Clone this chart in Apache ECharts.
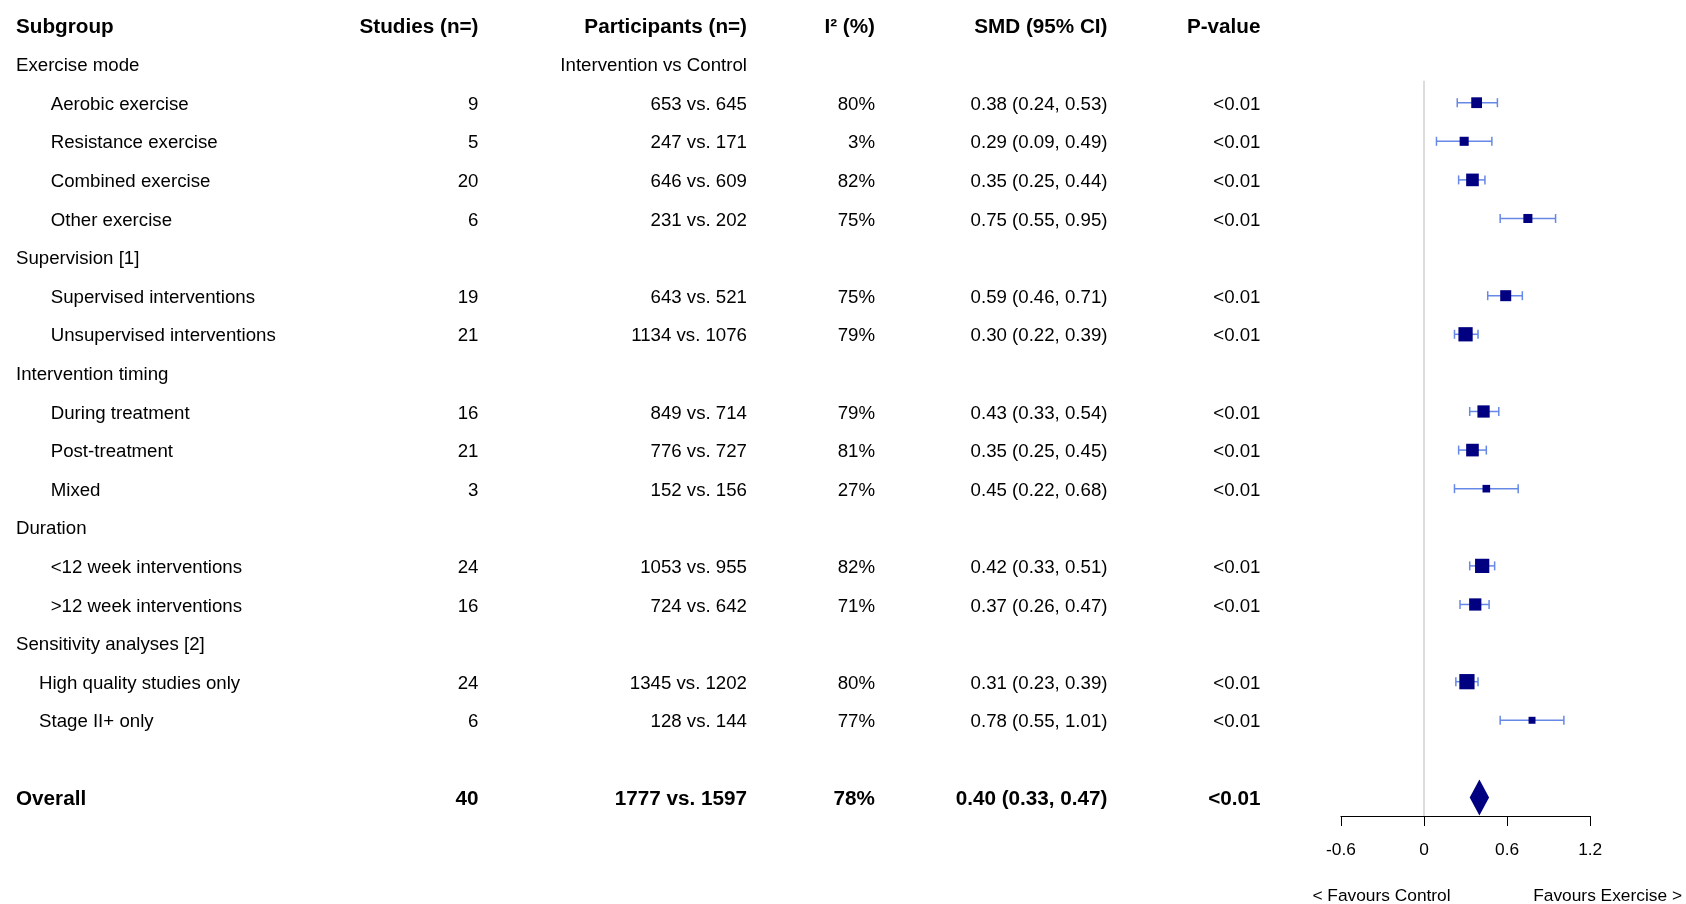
<!DOCTYPE html>
<html><head><meta charset="utf-8">
<script src="https://cdn.jsdelivr.net/npm/echarts@6/dist/echarts.min.js"></script>
<style>html,body{margin:0;padding:0;background:#fff}#c{width:1686px;height:904px}</style>
</head><body><div id="c"></div>
<script>
// ---------- data ----------
const headers = ['Subgroup', 'Studies (n=)', 'Participants (n=)', 'I\u00B2 (%)', 'SMD (95% CI)', 'P-value'];
const participantsNote = 'Intervention vs Control';
const subgroups = ['Exercise mode', 'Aerobic exercise', 'Resistance exercise', 'Combined exercise', 'Other exercise',
  'Supervision [1]', 'Supervised interventions', 'Unsupervised interventions',
  'Intervention timing', 'During treatment', 'Post-treatment', 'Mixed',
  'Duration', '<12 week interventions', '>12 week interventions',
  'Sensitivity analyses [2]', 'High quality studies only', 'Stage II+ only', '', 'Overall'];
// 0 = group heading, 1 = subgroup, 2 = sensitivity item, 3 = overall, -1 = blank
const rowKind = [0, 1, 1, 1, 1, 0, 1, 1, 0, 1, 1, 1, 0, 1, 1, 0, 2, 2, -1, 3];
const studies = [null, 9, 5, 20, 6, null, 19, 21, null, 16, 21, 3, null, 24, 16, null, 24, 6, null, 40];
const nIntervention = [null, 653, 247, 646, 231, null, 643, 1134, null, 849, 776, 152, null, 1053, 724, null, 1345, 128, null, 1777];
const nControl = [null, 645, 171, 609, 202, null, 521, 1076, null, 714, 727, 156, null, 955, 642, null, 1202, 144, null, 1597];
const i2 = [null, 80, 3, 82, 75, null, 75, 79, null, 79, 81, 27, null, 82, 71, null, 80, 77, null, 78];
const smd = [null, 0.38, 0.29, 0.35, 0.75, null, 0.59, 0.30, null, 0.43, 0.35, 0.45, null, 0.42, 0.37, null, 0.31, 0.78, null, 0.40];
const ciLow = [null, 0.24, 0.09, 0.25, 0.55, null, 0.46, 0.22, null, 0.33, 0.25, 0.22, null, 0.33, 0.26, null, 0.23, 0.55, null, 0.33];
const ciHigh = [null, 0.53, 0.49, 0.44, 0.95, null, 0.71, 0.39, null, 0.54, 0.45, 0.68, null, 0.51, 0.47, null, 0.39, 1.01, null, 0.47];
const pValues = [null, '<0.01', '<0.01', '<0.01', '<0.01', null, '<0.01', '<0.01', null, '<0.01', '<0.01', '<0.01', null, '<0.01', '<0.01', null, '<0.01', '<0.01', null, '<0.01'];
const weights = [null, 24, 17, 33, 17, null, 25, 42, null, 31, 33, 12, null, 42, 31, null, 48, 10, null, null];
const xTicks = [-0.6, 0, 0.6, 1.2];
const favourLabels = ['< Favours Control', 'Favours Exercise >'];

// ---------- styles / layout ----------
const FONT = "'Liberation Sans', Arial, sans-serif";
const FS = 18.67;
const FS_BOLD = 20.7;
const TEXT_DY = 2;
const NAVY = '#000080';
const WHISKER = '#6688e6';
const colRight = [null, 478.5, 747, 875, 1107.5, 1260.5];
const indent = {0: 16, 1: 50.7, 2: 39, 3: 16};
const ROWMAX = 20.48;

const chart = echarts.init(document.getElementById('c'), null, {renderer: 'canvas'});

// table rows (row 0 = header)
const tableData = [[0, 0]];
subgroups.forEach((s, i) => tableData.push([0, i + 1]));

function txt(text, x, y, align, bold) {
  return {type: 'text', style: {text: text, x: x, y: y + TEXT_DY, align: align, verticalAlign: 'middle',
    fontSize: bold ? FS_BOLD : FS, fontFamily: FONT, fontWeight: bold ? 'bold' : 'normal', fill: '#000'}};
}

const forestData = [];
smd.forEach((v, i) => {
  if (v == null) return;
  forestData.push([v, i + 1, ciLow[i], ciHigh[i], weights[i] == null ? 0 : weights[i], rowKind[i] === 3 ? 1 : 0]);
});

chart.setOption({
  animation: false,
  grid: {left: 1340.9, width: 249.3, top: 25.5, bottom: 88},
  xAxis: {
    type: 'value', min: -0.6, max: 1.2, interval: 0.6,
    splitLine: {show: false},
    axisLine: {show: true, onZero: false, lineStyle: {color: '#000', width: 1}},
    axisTick: {show: true, length: 10, lineStyle: {color: '#000', width: 1}},
    axisLabel: {color: '#000', fontSize: 17.33, fontFamily: FONT, margin: 25.5,
      formatter: v => { const t = xTicks.find(k => Math.abs(k - v) < 1e-9); return t === undefined ? '' : String(t); }}
  },
  yAxis: {type: 'value', inverse: true, min: 0, max: ROWMAX, show: false, splitLine: {show: false}},
  series: [
    {
      type: 'line', silent: true, symbol: 'none',
      data: [[0, 1.43], [0, ROWMAX]],
      lineStyle: {color: '#dcdcdc', width: 2}, z: 1
    },
    {
      type: 'custom', clip: false, silent: true, z: 3,
      data: forestData,
      encode: {x: 0, y: 1},
      renderItem: function (params, api) {
        const row = api.value(1), est = api.value(0), lo = api.value(2), hi = api.value(3), w = api.value(4), kind = api.value(5);
        const pE = api.coord([est, row]), pL = api.coord([lo, row]), pH = api.coord([hi, row]);
        if (kind === 1) {
          return {type: 'polygon', shape: {points: [[pL[0], pE[1]], [pE[0], pE[1] - 18], [pH[0], pE[1]], [pE[0], pE[1] + 18]]},
            style: {fill: NAVY}};
        }
        const s = 2.2 * Math.sqrt(w);
        const ls = {stroke: WHISKER, lineWidth: 1.5};
        return {type: 'group', children: [
          {type: 'line', shape: {x1: pL[0], y1: pL[1], x2: pH[0], y2: pH[1]}, style: ls},
          {type: 'line', shape: {x1: pL[0], y1: pL[1] - 4.5, x2: pL[0], y2: pL[1] + 4.5}, style: ls},
          {type: 'line', shape: {x1: pH[0], y1: pH[1] - 4.5, x2: pH[0], y2: pH[1] + 4.5}, style: ls},
          {type: 'rect', shape: {x: pE[0] - s / 2, y: pE[1] - s / 2, width: s, height: s}, style: {fill: NAVY}}
        ]};
      }
    },
    {
      type: 'custom', clip: false, silent: true, z: 4,
      data: tableData,
      encode: {x: 0, y: 1},
      renderItem: function (params, api) {
        const row = api.value(1);
        const y = api.coord([0, row])[1];
        const ch = [];
        if (row === 0) {
          ch.push(txt(headers[0], 16, y, 'left', true));
          for (let c = 1; c < headers.length; c++) ch.push(txt(headers[c], colRight[c], y, 'right', true));
          return {type: 'group', children: ch};
        }
        const i = row - 1;
        const k = rowKind[i];
        if (k < 0) return {type: 'group', children: []};
        const bold = k === 3;
        ch.push(txt(subgroups[i], indent[k], y, 'left', bold));
        if (i === 0) ch.push(txt(participantsNote, colRight[2], y, 'right', false));
        if (studies[i] != null) {
          ch.push(txt(String(studies[i]), colRight[1], y, 'right', bold));
          ch.push(txt(nIntervention[i] + ' vs. ' + nControl[i], colRight[2], y, 'right', bold));
          ch.push(txt(i2[i] + '%', colRight[3], y, 'right', bold));
          ch.push(txt(smd[i].toFixed(2) + ' (' + ciLow[i].toFixed(2) + ', ' + ciHigh[i].toFixed(2) + ')', colRight[4], y, 'right', bold));
          ch.push(txt(pValues[i], colRight[5], y, 'right', bold));
        }
        return {type: 'group', children: ch};
      }
    }
  ],
  graphic: [
    {type: 'text', silent: true, style: {text: favourLabels[0], x: 1381.5, y: 896, align: 'center', verticalAlign: 'middle',
      fontSize: 17.33, fontFamily: FONT, fill: '#000'}},
    {type: 'text', silent: true, style: {text: favourLabels[1], x: 1682, y: 896, align: 'right', verticalAlign: 'middle',
      fontSize: 17.33, fontFamily: FONT, fill: '#000'}}
  ]
});
</script>
</body></html>
